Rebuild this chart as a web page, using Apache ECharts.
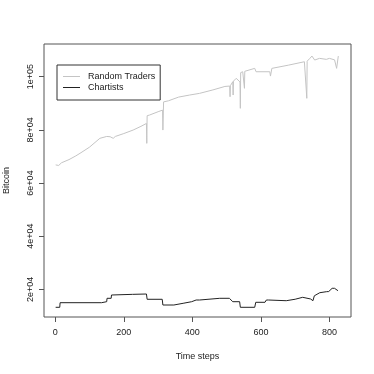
<!DOCTYPE html>
<html>
<head>
<meta charset="utf-8">
<script src="https://cdn.jsdelivr.net/npm/echarts@6/dist/echarts.min.js"></script>
<style>
  html, body { margin: 0; padding: 0; background: #fff; }
  #chart { width: 374px; height: 374px; }
</style>
</head>
<body>
<div id="chart"></div>
<script>
// values
const traderSteps = [1, 5, 10, 18, 40, 60, 75, 78, 80, 100, 130, 150, 160, 163, 169, 175, 200, 227, 250, 266, 267, 268, 275, 300, 313, 314, 316, 330, 360, 392, 421, 460, 495, 509, 510, 511, 518, 519, 520, 528, 539, 540, 541, 547, 552, 553, 557, 582, 586, 626, 628, 632, 680, 727, 734, 735, 743, 749, 757, 771, 791, 800, 815, 820, 821, 826]
const traderPrice = [66800, 67300, 66600, 67600, 68800, 70200, 71400, 70900, 71700, 73500, 76800, 77500, 77400, 77900, 76800, 77500, 78600, 79900, 81300, 82400, 74900, 85300, 85550, 86800, 87400, 79900, 90500, 90900, 92300, 93070, 93700, 95000, 96300, 96450, 92430, 96600, 98080, 93070, 98300, 99350, 98000, 88070, 101500, 101830, 95600, 102000, 102730, 103100, 101830, 101830, 100200, 103100, 104300, 105590, 91830, 105800, 106860, 107730, 106230, 106860, 106490, 106860, 106300, 106230, 103100, 107730]

const chartistSteps = [1, 13, 14, 135, 137, 150, 151, 163, 164, 225, 227, 266, 268, 312, 314, 346, 348, 373, 378, 398, 411, 421, 480, 508, 518, 538, 540, 582, 585, 612, 616, 622, 626, 674, 700, 722, 745, 752, 756, 760, 772, 791, 798, 808, 815, 825]
const chartistPrice = [13270, 13270, 15000, 15000, 15380, 15380, 16650, 16650, 17890, 18140, 18270, 18270, 16280, 16280, 14130, 14130, 14400, 14770, 15380, 15380, 16010, 16010, 16650, 16650, 15380, 15380, 13270, 13270, 15150, 15150, 16010, 16010, 15380, 15750, 16300, 17030, 16400, 15750, 17600, 18160, 18760, 19130, 19200, 20410, 20410, 19510]

const xTicks = [0, 200, 400, 600, 800]
const yTicks = [20000, 40000, 60000, 80000, 100000]

const zip = (xs, ys) => xs.map((x, i) => [x, ys[i]])

const sci = v => {
  const e = Math.floor(Math.log10(v))
  const m = v / Math.pow(10, e)
  return m + 'e+' + (e < 10 ? '0' : '') + e
}

const font = 'Liberation Sans, Arial, sans-serif'
const axisColor = '#555'

const chart = echarts.init(document.getElementById('chart'))
chart.setOption({
  animation: false,
  grid: {
    left: 44, top: 44, right: 23, bottom: 57,
    show: true,
    borderColor: axisColor,
    borderWidth: 1,
    outerBoundsMode: 'none'
  },
  legend: {
    left: 57, top: 65,
    orient: 'vertical',
    icon: 'rect',
    itemWidth: 17,
    itemHeight: 1,
    itemGap: 0,
    padding: [6, 5, 7, 6],
    borderColor: '#333',
    borderWidth: 1,
    textStyle: { fontFamily: font, fontSize: 9, color: '#222', lineHeight: 11, padding: [0, 0, 0, 3] },
    data: ['Random Traders', 'Chartists']
  },
  xAxis: {
    type: 'value',
    min: -33, max: 863,
    name: 'Time steps',
    nameLocation: 'middle',
    nameGap: 35,
    nameTextStyle: { fontFamily: font, fontSize: 9, color: '#222' },
    axisLine: { show: false, onZero: false },
    axisTick: { show: true, length: 5, customValues: xTicks, lineStyle: { color: axisColor } },
    axisLabel: { customValues: xTicks, margin: 11, fontFamily: font, fontSize: 9, color: '#222' },
    splitLine: { show: false }
  },
  yAxis: {
    type: 'value',
    min: 9624, max: 112260,
    name: 'Bitcoin',
    nameLocation: 'middle',
    nameGap: 33,
    nameRotate: 90,
    nameTextStyle: { fontFamily: font, fontSize: 9, color: '#222' },
    axisLine: { show: false, onZero: false },
    axisTick: { show: true, length: 5, customValues: yTicks, lineStyle: { color: axisColor } },
    axisLabel: { customValues: yTicks, rotate: 90, margin: 9, formatter: sci, fontFamily: font, fontSize: 9, color: '#222' },
    splitLine: { show: false }
  },
  series: [
    {
      name: 'Random Traders',
      type: 'line',
      showSymbol: false,
      symbol: 'none',
      color: '#c4c4c4',
      lineStyle: { width: 1, color: '#c4c4c4' },
      data: zip(traderSteps, traderPrice)
    },
    {
      name: 'Chartists',
      type: 'line',
      showSymbol: false,
      symbol: 'none',
      color: '#222',
      lineStyle: { width: 1, color: '#222' },
      data: zip(chartistSteps, chartistPrice)
    }
  ]
})
</script>
</body>
</html>
